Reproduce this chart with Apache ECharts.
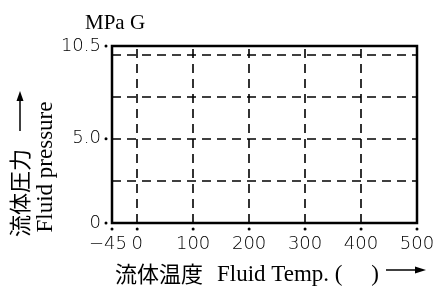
<!DOCTYPE html>
<html>
<head>
<meta charset="utf-8">
<script src="https://cdn.jsdelivr.net/npm/echarts@6/dist/echarts.min.js"></script>
<style>
  html, body { margin: 0; padding: 0; background: #fff; }
  #chart { width: 438px; height: 288px; }
</style>
</head>
<body>
<div id="chart"></div>
<script>
// axis ranges and tick labels
var xRange = [-45, 500];
var yRange = [0, 10.5];
var xTickValues = [-45, 0, 100, 200, 300, 400, 500];
var yTickValues = [0, 5, 10.5];
var yTickLabels = ['0', '5.0', '10.5'];
var xGridValues = [0, 100, 200, 300, 400];
var yGridValues = [2.5, 5, 7.5, 10];

var serif = 'Liberation Serif';
var sans = 'DejaVu Sans';
var cjk = 'Noto Sans CJK JP';

var chart = echarts.init(document.getElementById('chart'));

// tick dots sit a little off the axis lines
var dotData = xTickValues.map(function (v) { return [v, yRange[0]]; });
var yDotData = yTickValues.map(function (v) { return [xRange[0], v]; });

var gridLines = xGridValues.map(function (v) { return { xAxis: v }; })
  .concat(yGridValues.map(function (v) { return { yAxis: v }; }));

chart.setOption({
  animation: false,
  title: {
    text: 'MPa G',
    left: 85,
    top: 13,
    padding: 0,
    textStyle: { fontFamily: serif, fontSize: 21, fontWeight: 'normal', color: '#000' }
  },
  grid: {
    left: 112, top: 46, right: 21, bottom: 65,
    show: true,
    borderColor: '#000',
    borderWidth: 2.5
  },
  xAxis: {
    type: 'value',
    min: xRange[0],
    max: xRange[1],
    axisLine: { show: false },
    axisTick: { show: false },
    splitLine: { show: false },
    axisLabel: {
      customValues: xTickValues,
      margin: 12,
      fontFamily: sans,
      fontSize: 18,
      fontWeight: 200,
      color: '#000',
      formatter: function (v) { return v < 0 ? '{l|\u2212' + Math.abs(v) + '}' : String(v); },
      rich: {
        l: { fontFamily: sans, fontSize: 18, fontWeight: 200, color: '#000', padding: [0, 8, 0, 0] }
      }
    }
  },
  yAxis: {
    type: 'value',
    min: yRange[0],
    max: yRange[1],
    axisLine: { show: false },
    axisTick: { show: false },
    splitLine: { show: false },
    axisLabel: {
      customValues: yTickValues,
      margin: 11,
      fontFamily: sans,
      fontSize: 18,
      fontWeight: 200,
      color: '#000',
      formatter: function (v) {
        var i = yTickValues.indexOf(v);
        return i >= 0 ? yTickLabels[i] : '';
      }
    }
  },
  series: [{
    type: 'scatter',
    data: dotData,
    symbol: 'circle',
    symbolSize: 3,
    symbolOffset: [0, 6],
    clip: false,
    silent: true,
    z: 10,
    itemStyle: { color: '#000', opacity: 1 },
    markLine: {
      silent: true,
      symbol: ['none', 'none'],
      label: { show: false },
      lineStyle: { color: '#000', type: [9, 6], width: 1.6 },
      data: gridLines
    }
  }, {
    type: 'scatter',
    data: yDotData,
    symbol: 'circle',
    symbolSize: 3,
    symbolOffset: [-6, 0],
    clip: false,
    silent: true,
    z: 10,
    itemStyle: { color: '#000', opacity: 1 }
  }],
  graphic: [
    // y axis title, two rotated columns
    {
      type: 'text', x: 20, y: 193, rotation: Math.PI / 2,
      style: { text: '流体圧力', fontFamily: cjk, fontSize: 22, fill: '#000', align: 'center', verticalAlign: 'middle' }
    },
    {
      type: 'text', x: 46, y: 167, rotation: Math.PI / 2,
      style: { text: 'Fluid pressure', fontFamily: serif, fontSize: 23, fill: '#000', align: 'center', verticalAlign: 'middle' }
    },
    { type: 'line', shape: { x1: 20, y1: 131, x2: 20, y2: 96 }, style: { stroke: '#000', lineWidth: 1.5 } },
    { type: 'polygon', shape: { points: [[20, 91], [16.5, 101], [23.5, 101]] }, style: { fill: '#000' } },
    // x axis title
    {
      type: 'text', x: 115, y: 274,
      style: { text: '流体温度', fontFamily: cjk, fontSize: 22, fill: '#000', align: 'left', verticalAlign: 'middle' }
    },
    {
      type: 'text', x: 217, y: 275,
      style: { text: 'Fluid Temp. (     )', fontFamily: serif, fontSize: 23, fill: '#000', align: 'left', verticalAlign: 'middle' }
    },
    { type: 'line', shape: { x1: 386, y1: 270, x2: 421, y2: 270 }, style: { stroke: '#000', lineWidth: 1.5 } },
    { type: 'polygon', shape: { points: [[426, 270], [415, 266.5], [415, 273.5]] }, style: { fill: '#000' } }
  ]
});
</script>
</body>
</html>
